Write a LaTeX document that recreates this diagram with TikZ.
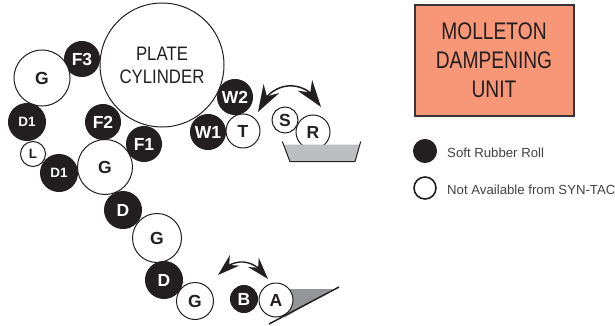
\documentclass[tikz,border=0pt]{standalone}
\usepackage{fontspec}
\setmainfont{Liberation Sans}
\newfontfamily\condfont[FakeStretch=0.8]{Liberation Sans}
\newfontfamily\platefont[FakeStretch=0.86]{Liberation Sans}
\usetikzlibrary{arrows.meta,bending}
\definecolor{ink}{HTML}{231F20}
\definecolor{salmon}{HTML}{F79778}
\definecolor{trayg}{HTML}{BCBEC0}
\definecolor{wedgeg}{HTML}{939598}
\tikzset{
  x=1pt,y=-1pt,
  roll/.style={circle,inner sep=0pt,outer sep=0pt,minimum size=#1*2pt,line width=1pt,font=\fontsize{17.5}{17.5}\selectfont\bfseries,text=ink},
  whiteroll/.style={roll=#1,draw=ink,fill=white},
  softroll/.style={roll=#1,draw=ink,fill=ink,text=white},
  small/.style={font=\fontsize{13.5}{13.5}\selectfont\bfseries},
  swing/.style={line width=1.5pt,draw=ink,{Stealth[length=27pt,width=18pt,inset=9pt,flex]}-{Stealth[length=27pt,width=18pt,inset=9pt,flex]}},
  swingsmall/.style={line width=1.4pt,draw=ink,{Stealth[length=22pt,width=14pt,inset=7pt,flex]}-{Stealth[length=22pt,width=14pt,inset=7pt,flex]}},
  legendtext/.style={anchor=west,inner sep=0pt,font=\fontsize{13.2}{13.2}\selectfont,text=ink!85}
}
\begin{document}
\begin{tikzpicture}
\useasboundingbox (0,0) rectangle (615,326);
% rolls
\node[whiteroll=62,align=center,font=\platefont\fontsize{19.5}{23}\selectfont] (plate) at (162,65) {PLATE\\CYLINDER};
\node[softroll=17.5] (f3) at (82,59) {F3};
\node[whiteroll=28] (g1) at (42,78) {G};
\node[softroll=18.5,small] (d1a) at (27,122) {D1};
\node[whiteroll=12.5,small] (l) at (33,154) {L};
\node[softroll=18.5,small] (d1b) at (59,173) {D1};
\node[whiteroll=27.5] (g2) at (105,167) {G};
\node[softroll=17.5] (f2) at (103,122) {F2};
\node[softroll=17.5] (f1) at (144,144) {F1};
\node[softroll=17.5] (w2) at (235,97) {W2};
\node[softroll=17.5] (w1) at (208,132) {W1};
\node[whiteroll=17] (t) at (243,131) {T};
% fountain
\node[whiteroll=17] (r) at (313,132) {R};
\node[whiteroll=13] (s) at (285,120) {S};
\fill[trayg] (283.5,144.5) -- (290,161.7) -- (355,161.7) -- (359.5,144.5) -- cycle;
\draw[ink,line width=1pt] (282.3,141.5) -- (290,161.7) -- (355,161.7) -- (360.7,141.5);
\coordinate (swingLa) at (258,112);
\coordinate (swingLb) at (321,107);
\draw[swing] (swingLa) .. controls (270,78) and (308,78) .. (swingLb);
% lower train
\node[softroll=18.5] (d2) at (123,210) {D};
\node[whiteroll=24.5] (g3) at (157,238) {G};
\node[softroll=18.5] (d3) at (164,280) {D};
\node[whiteroll=18.5] (g4) at (195,301) {G};
\node[softroll=13.5] (b) at (244,299) {B};
\fill[wedgeg] (290,289) -- (333,289) -- (285,317) -- cycle;
\node[whiteroll=17] (a) at (276,300) {A};
\coordinate (bladea) at (269,324);
\coordinate (bladeb) at (339,287);
\draw[ink,line width=1.5pt] (bladea) -- (bladeb);
\coordinate (swingSa) at (218,275);
\coordinate (swingSb) at (268,279);
\draw[swingsmall] (swingSa) .. controls (232,257) and (254,257) .. (swingSb);
% title box
\node[draw=ink!90,line width=2pt,fill=salmon,minimum width=159pt,minimum height=111pt,inner sep=0pt,align=center,text=ink,font=\condfont\fontsize{24}{29}\selectfont] (unit) at (494,61) {\raisebox{2.5pt}{MOLLETON}\\\raisebox{2.5pt}{DAMPENING}\\\raisebox{2.5pt}{UNIT}};
% legend
\node[softroll=11.5] (keysoft) at (425,151) {};
\node[whiteroll=11,line width=1.6pt] (keyopen) at (425,188) {};
\node[legendtext] (keysofttext) at (447,153) {Soft Rubber Roll};
\node[legendtext] (keyopentext) at (447,190) {Not Available from SYN-TAC};
\end{tikzpicture}
\end{document}
